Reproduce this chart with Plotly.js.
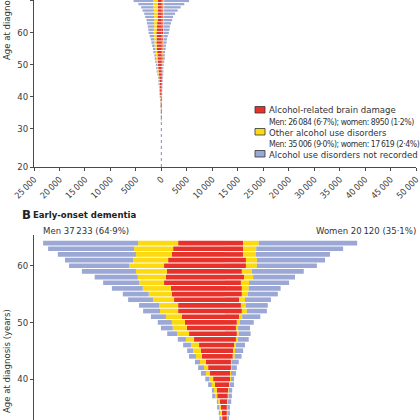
<!DOCTYPE html>
<html>
<head>
<meta charset="utf-8">
<script src="https://cdn.plot.ly/plotly-3.0.1.min.js"></script>
<style>html,body{margin:0;padding:0;background:#fff;}#chart{width:420px;height:420px;}</style>
</head>
<body>
<div id="chart"></div>
<script>
// Age at diagnosis (years) — panel A shows all visible ages, panel B the early-onset ones (<65)
const ages = [33,34,35,36,37,38,39,40,41,42,43,44,45,46,47,48,49,50,51,52,53,54,55,56,57,58,59,60,61,62,63,64,65,66,67,68,69,70];
const earlyOnsetMaxAge = 64;

// Men, number of cases per age
const menARBD        = [45,50,65,80,125,130,160,190,240,270,305,370,385,415,495,575,610,640,690,750,750,815,850,865,975,945,930,975,910,850,830,750,750,740,720,700,690,680];
const menOtherAUD    = [15,30,30,30,35,45,50,60,65,65,95,95,125,130,130,190,225,210,255,290,305,335,370,450,400,450,495,560,560,575,625,640,660,700,760,820,880,950];
const menNotRecorded = [30,20,30,20,45,35,60,65,80,95,80,110,95,125,130,160,190,225,240,270,320,400,415,495,575,690,865,960,1090,1250,1375,1520,1740,1910,2220,2430,2930,3820];

// Women, number of cases per age
const womenARBD        = [30,30,30,35,45,50,65,80,80,95,95,125,130,145,175,190,175,190,225,270,255,225,270,270,255,305,270,335,335,290,290,290,290,290,280,280,270,260];
const womenOtherAUD    = [8,8,8,10,10,10,15,15,15,15,15,30,30,30,30,30,35,45,50,80,80,95,95,110,130,145,160,175,175,205,210,250,250,260,270,280,290,300];
const womenNotRecorded = [25,40,40,55,55,55,65,50,80,80,110,110,130,145,175,190,190,225,290,320,350,415,480,510,640,670,830,960,1090,1185,1390,1575,1760,2150,2650,3240,3940,4890];

// Panel A x-axis ticks (labels as printed in the figure)
const xTickVals = [-25000,-20000,-15000,-10000,-5000,0,5000,10000,15000,20000,25000,30000,35000,40000,45000,50000];
const xTickText = ['25\u2009000','20\u2009000','15\u2009000','10\u2009000','5000','0','5000','10\u2009000','15\u2009000','25\u2009000','20\u2009000','30\u2009000','35\u2009000','40\u2009000','45\u2009000','50\u2009000'];
const yTickValsA = [18.1,30,40,50,60,70];
const yTickTextA = ['20','30','40','50','60','70'];
const yTickValsB = [40,50,60];

const legendLabels = ['Alcohol-related brain damage','Other alcohol use disorders','Alcohol use disorders not recorded'];
const legendNotes = ['Men: 26\u2009084 (6·7%); women: 8950 (1·2%)','Men: 35\u2009006 (9·0%); women: 17\u2009619 (2·4%)'];
const menTotalLabel = 'Men 37\u2009233 (64·9%)';
const womenTotalLabel = 'Women 20\u2009120 (35·1%)';

const COLORS = {red:'#e6322a', yellow:'#fdd90f', blue:'#9ba7d4'};
const FONT = '"Liberation Sans Narrow","DejaVu Sans Condensed","Roboto Condensed","Open Sans",sans-serif';

const neg = a => a.map(v => -v);
const early = ages.map((a,i)=>i).filter(i => ages[i] <= earlyOnsetMaxAge);
const pick = (arr) => early.map(i => arr[i]);

function panelTraces(y, mR, mY, mB, wR, wY, wB, xa, ya, w) {
  const base = {type:'bar', orientation:'h', y:y, width:w, xaxis:xa, yaxis:ya, hoverinfo:'none'};
  return [
    Object.assign({}, base, {x:neg(mR), marker:{color:COLORS.red, line:{width:0}}}),
    Object.assign({}, base, {x:wR, marker:{color:COLORS.red, line:{width:0}}}),
    Object.assign({}, base, {x:neg(mY), marker:{color:COLORS.yellow, line:{width:0}}}),
    Object.assign({}, base, {x:wY, marker:{color:COLORS.yellow, line:{width:0}}}),
    Object.assign({}, base, {x:neg(mB), marker:{color:COLORS.blue, line:{width:0}}}),
    Object.assign({}, base, {x:wB, marker:{color:COLORS.blue, line:{width:0}}})
  ];
}

const traces = [].concat(
  panelTraces(ages, menARBD, menOtherAUD, menNotRecorded, womenARBD, womenOtherAUD, womenNotRecorded, 'x', 'y', 0.72),
  panelTraces(pick(ages), pick(menARBD), pick(menOtherAUD), pick(menNotRecorded), pick(womenARBD), pick(womenOtherAUD), pick(womenNotRecorded), 'x2', 'y2', 0.82)
);

// pixel -> paper helpers (plot area: l=34, r=4, t=0, b=0 in a 420x420 figure)
const L = 34, R = 4, PW = 420 - L - R, PH = 420;
const px = v => (v - L) / PW;
const py = v => 1 - v / PH;

const axisLine = '#4a4a4a';
const tickFont = {family: FONT, size: 9.5, color: '#3a3a3a'};
const xTickFont = {family: FONT, size: 8.8, color: '#3a3a3a'};

const shapes = [
  {type:'line', xref:'x', yref:'y', x0:0, x1:0, y0:18.1, y1:41, line:{color:'#7f8cc4', width:1, dash:'dot'}, layer:'below'}
];
const legendRowsY = [[106.5,113],[128.5,135],[150.5,157]];
[COLORS.red, COLORS.yellow, COLORS.blue].forEach((c,i) => {
  shapes.push({type:'rect', xref:'paper', yref:'paper', x0:px(255), x1:px(265), y0:py(legendRowsY[i][1]), y1:py(legendRowsY[i][0]),
               fillcolor:c, line:{color:'#333', width:0.8}});
});

const ann = (text, x, y, opts) => Object.assign({text:text, xref:'paper', yref:'paper', x:px(x), y:py(y),
  showarrow:false, xanchor:'left', yanchor:'middle', font:{family:FONT, size:9.5, color:'#333'}}, opts||{});
const noteFont = {family:FONT, size:8.6, color:'#333'};
const tight = t => '<span style="letter-spacing:-0.45px">' + t + '</span>';

const annotations = [
  ann(legendLabels[0], 267, 110),
  ann(tight(legendNotes[0]), 267, 121.5, {font:noteFont}),
  ann(legendLabels[1], 267, 132.5),
  ann(tight(legendNotes[1]), 267, 143.5, {font:noteFont}),
  ann(legendLabels[2], 267, 154.5),
  ann('B', 20, 214, {font:{family:FONT, size:13, color:'#222', weight:'bold'}}),
  ann('<b>Early-onset dementia</b>', 31, 214.5, {font:{family:FONT, size:9.5, color:'#222'}}),
  ann(menTotalLabel, 41, 230),
  ann(womenTotalLabel, 418, 230, {xanchor:'right'}),
  ann('Age at diagnosis (years)', 6, 8, {xanchor:'center', textangle:-90}),
  ann('Age at diagnosis (years)', 6, 361, {xanchor:'center', textangle:-90})
];

const layout = {
  width:420, height:420,
  margin:{l:L, r:R, t:0, b:0, pad:0},
  paper_bgcolor:'#fff', plot_bgcolor:'#fff',
  barmode:'relative',
  showlegend:false,
  font:{family:FONT, size:9.5, color:'#333'},
  xaxis:{domain:[0,1], anchor:'y', range:[-25000,50000], tickvals:xTickVals, ticktext:xTickText, tickangle:-45,
         ticklabeloverflow:'allow',
         showline:true, linecolor:axisLine, linewidth:1, ticks:'outside', ticklen:3, tickcolor:axisLine,
         showgrid:false, zeroline:false, tickfont:xTickFont, fixedrange:true},
  yaxis:{domain:[py(167),1], anchor:'x', range:[18.1,70.29], tickvals:yTickValsA, ticktext:yTickTextA,
         showline:true, linecolor:axisLine, linewidth:1, ticks:'outside', ticklen:3, tickcolor:axisLine,
         showgrid:false, zeroline:false, tickfont:tickFont},
  xaxis2:{domain:[0,1], anchor:'y2', range:[-3056,3056], visible:false},
  yaxis2:{domain:[0,py(235)], anchor:'x2', range:[32.76,65.43], tickvals:yTickValsB,
         showline:true, linecolor:axisLine, linewidth:1, ticks:'outside', ticklen:3, tickcolor:axisLine,
         showgrid:false, zeroline:false, tickfont:tickFont},
  shapes:shapes,
  annotations:annotations
};

Plotly.newPlot('chart', traces, layout, {staticPlot:true, displayModeBar:false});
</script>
</body>
</html>
